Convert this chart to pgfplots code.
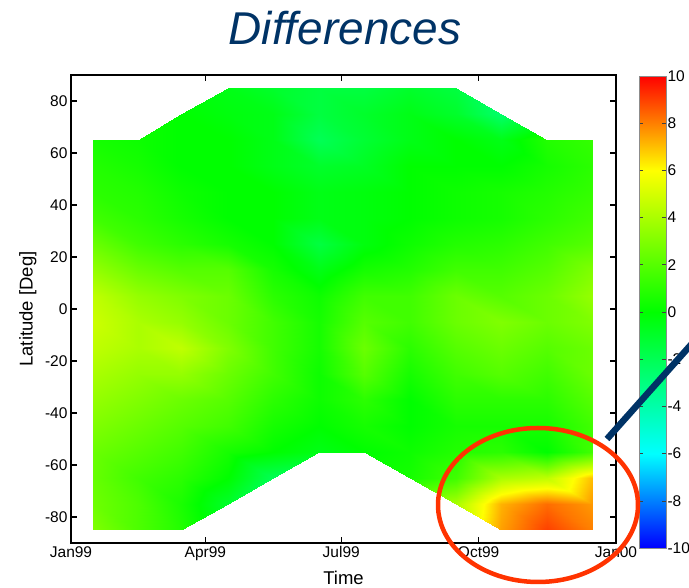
\documentclass[border=0pt]{standalone}
\usepackage{pgfplots}
\pgfplotsset{compat=1.18}
\usepackage{fontspec}
\setmainfont{Liberation Sans}
\definecolor{navy}{RGB}{0,51,102}
\definecolor{ringred}{RGB}{255,51,0}

\begin{document}
\begin{tikzpicture}
\useasboundingbox (0,0) rectangle (689pt,588pt);

\node[font=\fontsize{46}{50}\selectfont\itshape, text=navy, anchor=base] at (345pt,543pt) {Differences};

\begin{axis}[
  at={(71pt,45pt)}, anchor=south west,
  scale only axis, width=545pt, height=468pt,
  xmin=0, xmax=365, ymin=-90, ymax=90,
  xtick={0,90,181,273,365},
  xticklabels={Jan99,Apr99,Jul99,Oct99,Jan00},
  ytick={-80,-60,...,80},
  tick align=inside, major tick length=6pt,
  every tick/.style={black, line width=1.5pt},
  axis line style={line width=1.6pt},
  tick label style={font=\fontsize{15.5}{18}\selectfont},
  /pgf/number format/assume math mode=true,
  xlabel={Time}, ylabel={Latitude [Deg]},
  label style={font=\fontsize{18.5}{22}\selectfont},
  xlabel style={at={(axis description cs:0.5,-0.075)}, anchor=center},
  ylabel style={at={(axis description cs:-0.079,0.5)}, anchor=center},
  colormap={diff}{rgb255(0cm)=(0,0,255) rgb255(4cm)=(0,255,255) rgb255(10cm)=(0,255,0) rgb255(16cm)=(255,255,0) rgb255(20cm)=(255,0,0)},
  point meta min=-10, point meta max=10,
  colorbar,
  colorbar/width=27pt,
  colorbar shift/.style={},
  colorbar style={
    at={(parent axis.north east)}, anchor=north west,
    xshift=23pt, yshift=-1pt,
    height=472pt,
    ytick={-10,-8,...,10},
    yticklabel pos=right, ytick pos=both,
    tick align=inside, major tick length=4pt,
    every tick/.style={black!75, line width=0.6pt},
    axis line style={draw=black!45, line width=0.8pt},
    tick label style={font=\fontsize{15.5}{18}\selectfont},
    yticklabel style={xshift=-2pt},
    /pgf/number format/assume math mode=true,
  },
  axis on top,
]
% monthly zonal means; cells outside the covered latitudes sit on the edge point
\addplot[surf, shader=interp, mesh/ordering=y varies, point meta=explicit]
table[x=t, y=lat, meta=v] {
t lat v
15 -85 3.0
15 -75 2.6
15 -65 2.4
15 -55 2.5
15 -45 3.0
15 -35 3.5
15 -25 4.0
15 -15 4.5
15 -5 4.8
15 5 4.5
15 15 3.5
15 25 2.5
15 35 1.5
15 45 1.0
15 55 0.8
15 65 0.5
15 65 0.5
15 65 0.5

45 -85 1.8
45 -75 1.8
45 -65 1.5
45 -55 2.0
45 -45 2.5
45 -35 3.0
45 -25 3.5
45 -15 4.0
45 -5 4.0
45 5 3.5
45 15 2.5
45 25 1.5
45 35 1.0
45 45 0.8
45 55 0.5
45 65 0.3
45 65 0.3
45 65 0.3

74 -85 0.8
74 -75 0.6
74 -65 1.0
74 -55 1.5
74 -45 2.0
74 -35 2.5
74 -25 3.5
74 -15 4.5
74 -5 3.5
74 5 3.0
74 15 2.0
74 25 1.0
74 35 0.5
74 45 0.3
74 55 0.0
74 65 0.0
74 75 0.0
74 75 0.0

105 -75 -1.0
105 -75 -1.0
105 -65 0.0
105 -55 0.5
105 -45 1.5
105 -35 2.0
105 -25 2.5
105 -15 3.0
105 -5 2.5
105 5 2.5
105 15 2.0
105 25 0.5
105 35 0.0
105 45 0.0
105 55 0.0
105 65 0.0
105 75 -0.3
105 85 -0.5

135 -65 -2.0
135 -65 -2.0
135 -65 -2.0
135 -55 0.0
135 -45 0.5
135 -35 1.0
135 -25 1.5
135 -15 1.5
135 -5 1.5
135 5 1.0
135 15 0.5
135 25 0.0
135 35 0.0
135 45 0.0
135 55 -0.5
135 65 -0.5
135 75 -0.5
135 85 -1.0

166 -55 -0.5
166 -55 -0.5
166 -55 -0.5
166 -55 -0.5
166 -45 0.0
166 -35 0.3
166 -25 0.3
166 -15 0.5
166 -5 0.5
166 5 0.3
166 15 -0.5
166 25 -1.5
166 35 -0.5
166 45 -0.5
166 55 -1.0
166 65 -2.0
166 75 -1.5
166 85 -1.5

196 -55 0.0
196 -55 0.0
196 -55 0.0
196 -55 0.0
196 -45 0.5
196 -35 1.0
196 -25 2.0
196 -15 2.5
196 -5 2.0
196 5 1.5
196 15 0.5
196 25 -0.3
196 35 -0.3
196 45 -0.3
196 55 -0.8
196 65 -1.2
196 75 -1.0
196 85 -1.5

227 -65 0.5
227 -65 0.5
227 -65 0.5
227 -55 0.3
227 -45 0.0
227 -35 0.0
227 -25 0.5
227 -15 1.0
227 -5 1.5
227 5 1.5
227 15 0.8
227 25 0.3
227 35 0.0
227 45 0.0
227 55 0.0
227 65 -0.5
227 75 -0.5
227 85 -1.0

258 -75 4.0
258 -75 4.0
258 -65 1.5
258 -55 0.8
258 -45 0.5
258 -35 1.0
258 -25 1.5
258 -15 2.0
258 -5 2.5
258 5 2.5
258 15 1.5
258 25 0.8
258 35 0.3
258 45 0.3
258 55 0.0
258 65 0.0
258 75 -1.0
258 85 -1.5

288 -85 7.5
288 -75 7.2
288 -65 4.0
288 -55 1.0
288 -45 0.5
288 -35 1.0
288 -25 2.0
288 -15 2.5
288 -5 3.0
288 5 2.0
288 15 1.5
288 25 1.0
288 35 0.5
288 45 0.5
288 55 0.0
288 65 -0.5
288 75 -2.5
288 75 -2.5

319 -85 9.0
319 -75 8.3
319 -65 4.5
319 -55 0.0
319 -45 0.5
319 -35 1.0
319 -25 1.5
319 -15 2.0
319 -5 2.5
319 5 2.5
319 15 2.0
319 25 1.5
319 35 1.0
319 45 0.8
319 55 0.5
319 65 0.8
319 65 0.8
319 65 0.8

349 -85 8.0
349 -75 7.6
349 -65 7.0
349 -55 1.5
349 -45 1.5
349 -35 2.0
349 -25 2.5
349 -15 2.5
349 -5 3.0
349 5 3.5
349 15 3.0
349 25 2.0
349 35 1.5
349 45 1.2
349 55 1.0
349 65 1.2
349 65 1.2
349 65 1.2
};
\end{axis}

% callout: ring round the southern spring anomaly and its pointer
\draw[ringred, line width=4.5pt] (538pt,83pt) ellipse [x radius=100pt, y radius=77pt];
\draw[navy, line width=6.5pt] (607pt,149pt) -- (705pt,259pt);
\end{tikzpicture}
\end{document}
